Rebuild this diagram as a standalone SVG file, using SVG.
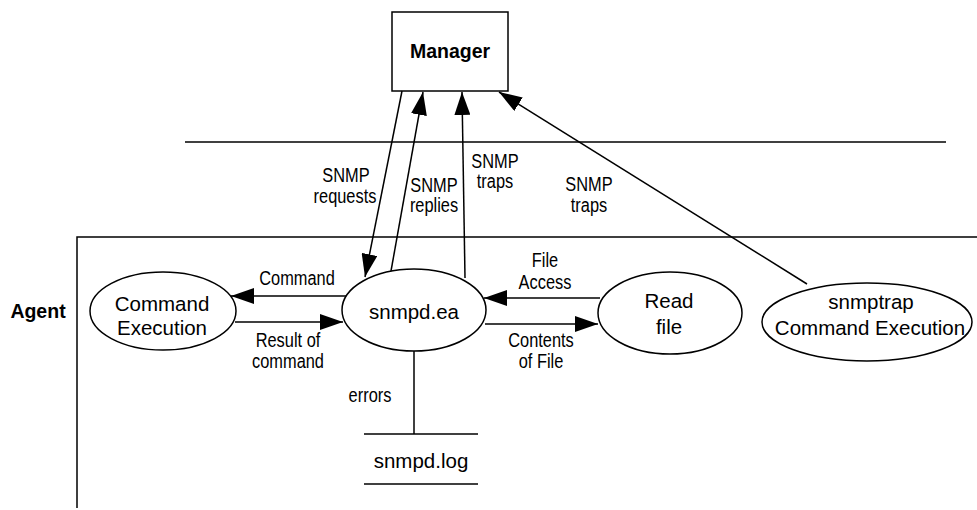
<svg xmlns="http://www.w3.org/2000/svg" width="977" height="510" viewBox="0 0 977 510">
  <style>
    .ln { stroke: #000; stroke-width: 1.5; fill: none; }
    .shape { stroke: #000; stroke-width: 1.5; fill: #fff; }
    .node { font-family: "Liberation Sans", Arial, sans-serif; font-size: 20.5px; text-anchor: middle; fill: #000; }
    .bold { font-family: "Liberation Sans", Arial, sans-serif; font-size: 19.5px; font-weight: bold; fill: #000; }
    .lbl { font-family: "Liberation Sans", Arial, sans-serif; font-size: 21px; text-anchor: middle; fill: #000; }
  </style>
  <defs>
    <marker id="arrow" markerUnits="userSpaceOnUse" markerWidth="24" markerHeight="16" refX="23" refY="8" orient="auto">
      <path d="M0,0 L23,8 L0,16 Z" fill="#000"/>
    </marker>
  </defs>

  <rect width="977" height="510" fill="#fff"/>

  <!-- boundary lines -->
  <g id="boundaries">
    <line class="ln" x1="185" y1="142" x2="946" y2="142"/>
    <polyline class="ln" points="77,508 77,237 977,237"/>
  </g>

  <!-- Manager -->
  <g id="manager">
    <rect class="shape" x="392" y="12" width="116" height="79"/>
    <text class="bold" x="450" y="58" text-anchor="middle">Manager</text>
  </g>

  <!-- Agent label -->
  <g id="agent">
    <text class="bold" x="38" y="318" text-anchor="middle">Agent</text>
  </g>

  <!-- Command Execution process -->
  <g id="command-execution">
    <ellipse class="shape" cx="163" cy="311" rx="73" ry="39"/>
    <text class="node" x="162" y="311">Command</text>
    <text class="node" x="162" y="335">Execution</text>
  </g>

  <!-- snmpd.ea process -->
  <g id="snmpd">
    <ellipse class="shape" cx="414" cy="310" rx="72" ry="41"/>
    <text class="node" x="414" y="319">snmpd.ea</text>
  </g>

  <!-- Read file process -->
  <g id="read-file">
    <ellipse class="shape" cx="670" cy="313" rx="72" ry="41"/>
    <text class="node" x="669" y="308">Read</text>
    <text class="node" x="669" y="334">file</text>
  </g>

  <!-- snmptrap process -->
  <g id="snmptrap">
    <ellipse class="shape" cx="867" cy="322" rx="105" ry="39"/>
    <text class="node" x="871" y="309">snmptrap</text>
    <text class="node" x="870" y="335">Command Execution</text>
  </g>

  <!-- log data store -->
  <g id="snmpd-log">
    <line class="ln" x1="364" y1="434" x2="478" y2="434"/>
    <line class="ln" x1="364" y1="484" x2="478" y2="484"/>
    <text class="node" x="421" y="468">snmpd.log</text>
  </g>

  <!-- connectors -->
  <g id="connectors">
    <line class="ln" x1="402" y1="91" x2="365" y2="277" marker-end="url(#arrow)"/>
    <line class="ln" x1="391" y1="271" x2="423" y2="92" marker-end="url(#arrow)"/>
    <line class="ln" x1="465" y1="278" x2="462" y2="92" marker-end="url(#arrow)"/>
    <line class="ln" x1="807" y1="284" x2="499" y2="92" marker-end="url(#arrow)"/>
    <line class="ln" x1="346" y1="296" x2="231" y2="296" marker-end="url(#arrow)"/>
    <line class="ln" x1="235" y1="322" x2="343" y2="322" marker-end="url(#arrow)"/>
    <line class="ln" x1="600" y1="298" x2="484" y2="298" marker-end="url(#arrow)"/>
    <line class="ln" x1="485" y1="324" x2="598" y2="324" marker-end="url(#arrow)"/>
    <line class="ln" x1="414" y1="351" x2="414" y2="434"/>
  </g>

  <!-- connector labels, set in a condensed face -->
  <g id="labels">
    <text class="lbl" transform="translate(346,182) scale(0.78,1)">SNMP</text>
    <text class="lbl" transform="translate(345,203) scale(0.78,1)">requests</text>
    <text class="lbl" transform="translate(434,192) scale(0.78,1)">SNMP</text>
    <text class="lbl" transform="translate(434,212) scale(0.78,1)">replies</text>
    <text class="lbl" transform="translate(495,168) scale(0.78,1)">SNMP</text>
    <text class="lbl" transform="translate(495,188) scale(0.78,1)">traps</text>
    <text class="lbl" transform="translate(589,191) scale(0.78,1)">SNMP</text>
    <text class="lbl" transform="translate(589,212) scale(0.78,1)">traps</text>
    <text class="lbl" transform="translate(297,285) scale(0.78,1)">Command</text>
    <text class="lbl" transform="translate(288,347) scale(0.78,1)">Result of</text>
    <text class="lbl" transform="translate(288,368) scale(0.78,1)">command</text>
    <text class="lbl" transform="translate(545,267) scale(0.78,1)">File</text>
    <text class="lbl" transform="translate(545,289) scale(0.78,1)">Access</text>
    <text class="lbl" transform="translate(541,347) scale(0.78,1)">Contents</text>
    <text class="lbl" transform="translate(541,368) scale(0.78,1)">of File</text>
    <text class="lbl" transform="translate(370,402) scale(0.78,1)">errors</text>
  </g>
</svg>
